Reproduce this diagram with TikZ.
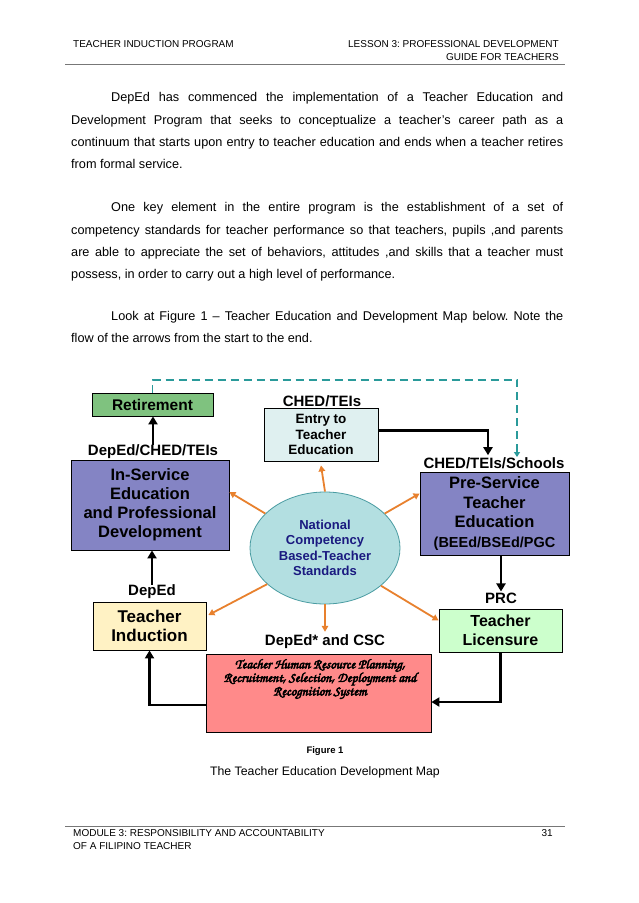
\documentclass[tikz,border=0pt]{standalone}
\usepackage{fontspec}
\setmainfont{Liberation Sans}
\newfontfamily\chorus[AutoFakeBold=4]{TeX Gyre Chorus}
\usetikzlibrary{arrows.meta,calc,shapes.geometric}
\definecolor{purp}{HTML}{8484C4}
\definecolor{retg}{HTML}{7FC27F}
\definecolor{entryc}{HTML}{DFF0F0}
\definecolor{indc}{HTML}{FFF2C4}
\definecolor{licc}{HTML}{CCFFCC}
\definecolor{redc}{HTML}{FF8A8A}
\definecolor{ellfill}{HTML}{B3DFE1}
\definecolor{ellborder}{HTML}{4A9CA2}
\definecolor{navyc}{HTML}{1A1A80}
\definecolor{orangec}{HTML}{E8812E}
\definecolor{tealc}{HTML}{2A9A9A}
\definecolor{rulec}{HTML}{777777}
\frenchspacing
\begin{document}
\begin{tikzpicture}[x=1pt,y=-1pt,
  body/.style={font=\fontsize{12.7}{14}\selectfont, inner sep=0, anchor=base west},
  hdr/.style={font=\fontsize{10}{12}\selectfont, inner sep=0},
  box/.style={draw=black, line width=0.8pt, inner sep=0, align=center, font=\bfseries\fontsize{16.5}{19}\selectfont},
  lbl/.style={font=\bfseries\fontsize{15}{17}\selectfont, inner sep=0},
  blk/.style={line width=2.4pt, -{Triangle[length=8pt,width=9pt]}},
  org/.style={draw=orangec, line width=1.8pt, -{Triangle[length=6pt,width=6.5pt]}},
  tealdash/.style={draw=tealc, line width=1.8pt, dash pattern=on 8pt off 5pt, -{Triangle[length=5pt,width=6pt]}}
]
\useasboundingbox (0,0) rectangle (638,903);
\fill[white] (0,0) rectangle (638,903);

% header
\node[hdr, anchor=base west] (h1) at (73,47) {TEACHER INDUCTION PROGRAM};
\node[hdr, anchor=base east] (h2) at (559,47) {LESSON 3: PROFESSIONAL DEVELOPMENT};
\node[hdr, anchor=base east] (h3) at (559,60) {GUIDE FOR TEACHERS};
\draw[rulec, line width=0.6pt] (65,64) -- (565,64);

% paragraph 1
\node[body] (p1a) at (111,101) {\makebox[452pt][s]{DepEd has commenced the implementation of a Teacher Education and}};
\node[body] (p1b) at (71,124) {\makebox[492pt][s]{Development Program that seeks to conceptualize a teacher’s career path as a}};
\node[body] (p1c) at (71,146) {\makebox[492pt][s]{continuum that starts upon entry to teacher education and ends when a teacher retires}};
\node[body] (p1d) at (71,168) {from formal service.};

% paragraph 2
\node[body] (p2a) at (111,211) {\makebox[452pt][s]{One key element in the entire program is the establishment of a set of}};
\node[body] (p2b) at (71,234) {\makebox[492pt][s]{competency standards for teacher performance so that teachers, pupils ,and parents}};
\node[body] (p2c) at (71,256) {\makebox[492pt][s]{are able to appreciate the set of behaviors, attitudes ,and skills that a teacher must}};
\node[body] (p2d) at (71,278) {possess, in order to carry out a high level of performance.};

% paragraph 3
\node[body] (p3a) at (111,320) {\makebox[452pt][s]{Look at Figure 1 – Teacher Education and Development Map below. Note the}};
\node[body] (p3b) at (71,342) {flow of the arrows from the start to the end.};

% diagram boxes
\node[box, fill=retg, minimum width=121pt, minimum height=23pt, font=\bfseries\fontsize{15.5}{17}\selectfont] (retire) at (152.5,404.5) {Retirement};
\node[box, fill=purp, minimum width=158pt, minimum height=90pt] (inserv) at (150,505) {In-Service\\Education\\and Professional\\Development};
\node[box, fill=entryc, minimum width=114pt, minimum height=53pt, font=\bfseries\fontsize{13.5}{15.5}\selectfont] (entry) at (321,434.5) {Entry to\\Teacher\\Education};
\node[box, fill=purp, minimum width=149pt, minimum height=83pt, font=\bfseries\fontsize{16.5}{19.5}\selectfont] (preserv) at (494.5,513.5) {Pre-Service\\Teacher\\Education\\{\fontsize{14.5}{19.5}\selectfont (BEEd/BSEd/PGC}};
\node[ellipse, draw=ellborder, line width=0.8pt, fill=ellfill, minimum width=150pt, minimum height=112pt, inner sep=0, align=center, text=navyc, font=\bfseries\fontsize{13}{15.5}\selectfont] (ell) at (325,548) {National\\Competency\\Based-Teacher\\Standards};
\node[box, fill=indc, minimum width=113pt, minimum height=48pt, font=\bfseries\fontsize{17}{19.5}\selectfont] (ind) at (149.5,626) {Teacher\\Induction};
\node[box, fill=licc, minimum width=123pt, minimum height=43pt, font=\bfseries\fontsize{16}{18.5}\selectfont] (lic) at (500.5,630.5) {Teacher\\Licensure};
\node[draw=black, line width=0.8pt, fill=redc, minimum width=225pt, minimum height=78pt, inner sep=0] (red) at (318.5,693) {};
\node[inner sep=0, anchor=north, align=center, font=\chorus\bfseries\fontsize{13.6}{13.5}\selectfont] (redtxt) at (320,659) {Teacher Human Resource Planning,\\Recruitment, Selection, Deployment and\\Recognition System};

% labels
\node[lbl] (ctei) at (322,401) {CHED/TEIs};
\node[lbl] (dcte) at (153,452) {DepEd/CHED/TEIs};
\node[lbl] (schools) at (494,463) {CHED/TEIs/Schools};
\node[lbl] (deped) at (152,592) {DepEd};
\node[lbl] (prc) at (501,598) {PRC};
\node[lbl] (csc) at (325,642) {DepEd* and CSC};

% dashed teal connector
\coordinate (dashend) at (517,457);
\draw[tealdash] (retire.north) -- ++(0,-13) -| (dashend);

% black arrows
\draw[blk] (dcte.north) -- (dcte.north |- retire.south);
\draw[blk] ($(entry.east)+(0,-4)$) -| ($(schools.north)+(-6,-2)$);
\draw[blk] (prc.north |- preserv.south) -- ($(prc.north)+(0,-1)$);
\draw[blk] (lic.south) |- ($(red.east)+(0,9)$);
\draw[blk] ($(red.west)+(0,12)$) -| (ind.south);
\draw[blk] (deped.north) -- (deped.north |- inserv.south);

% orange arrows
\draw[org] (ell.150) -- ($(inserv.east)+(0,-13)$);
\draw[org] (ell.north) -- ($(entry.south)+(0,4)$);
\draw[org] (ell.30) -- ($(preserv.west)+(0,-20)$);
\draw[org] (ell.212) -- ($(ind.east)+(2,-11)$);
\draw[org] (ell.south) -- ($(csc.north)+(0,-3)$);
\draw[org] (ell.-34) -- ($(lic.west)+(0,-10)$);

% caption
\node[inner sep=0, font=\bfseries\fontsize{9.5}{11}\selectfont] (figl) at (325,751) {Figure 1};
\node[inner sep=0, font=\fontsize{12.3}{14}\selectfont] (figt) at (325,772) {The Teacher Education Development Map};

% footer
\draw[rulec, line width=0.6pt] (65,826) -- (565,826);
\node[hdr, anchor=base west] (f1) at (73,836) {MODULE 3: RESPONSIBILITY AND ACCOUNTABILITY};
\node[hdr, anchor=base west] (f2) at (73,849) {OF A FILIPINO TEACHER};
\node[hdr, anchor=base east] (f3) at (553,836) {31};
\end{tikzpicture}
\end{document}
